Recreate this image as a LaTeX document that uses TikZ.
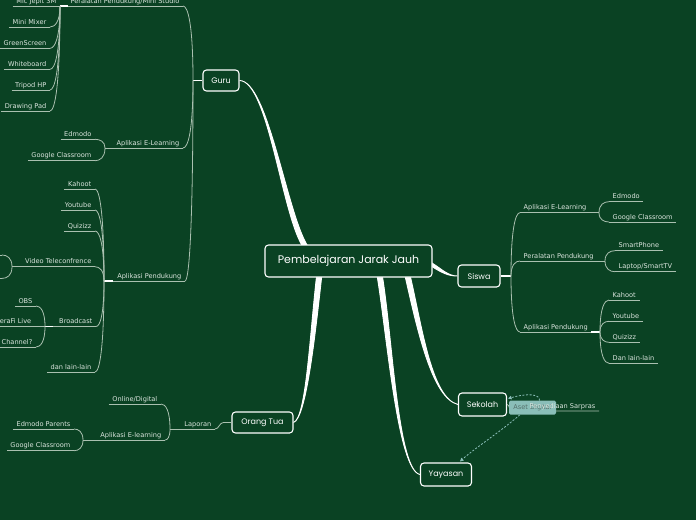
\documentclass[tikz,border=0pt]{standalone}
\usepackage{fontspec}
\setmainfont{DejaVu Sans}
\newfontfamily\hand{Poppins}
\usetikzlibrary{calc,arrows.meta}
\definecolor{bgc}{RGB}{10,66,35}
\definecolor{linec}{RGB}{170,192,176}
\definecolor{txtc}{RGB}{220,230,223}
\definecolor{asetc}{RGB}{138,190,184}
\definecolor{asettxt}{RGB}{84,112,106}
\pgfdeclarelayer{bglayer}
\pgfdeclarelayer{connlayer}
\pgfsetlayers{bglayer,connlayer,main}
\tikzset{
  uline/.style={draw=linec, line width=0.8pt},
  lblnl/.style={font=\fontsize{6.6}{7.5}\selectfont, text=txtc, inner xsep=3.5pt, inner ysep=1.5pt, text height=4.9pt, text depth=1.3pt},
  lbl/.style={lblnl, append after command={(\tikzlastnode.south west) edge[uline] (\tikzlastnode.south east)}},
  ll/.style={lbl, anchor=south east},
  lr/.style={lbl, anchor=south west},
  br/.style={draw=linec, line width=0.8pt},
  hl/.style={draw=white, line width=1.4pt},
  topic/.style={draw=white, line width=1.1pt, rounded corners=3.5pt, fill=bgc, text=white, font=\hand\fontsize{8}{9}\selectfont, inner sep=0pt},
  maintopic/.style={topic, font=\hand\fontsize{11}{12}\selectfont},
  asetbox/.style={fill=asetc, rounded corners=1.5pt, text=asettxt, font=\fontsize{6.6}{7.5}\selectfont, inner sep=0pt, minimum width=47pt, minimum height=14pt},
  dashc/.style={draw=asetc, line width=0.8pt, dash pattern=on 2pt off 1.6pt, -{Triangle[length=3.5pt,width=3.5pt]}},
}
\newcommand\brk[2]{\draw[br] (#1) .. controls ($(#1)!0.75!(#1|-#2)$) and ($(#2)!0.5!(#1|-#2)$) .. (#2);}
\newcommand\taper[5]{\filldraw[white,line width=0.9pt,line join=round] (#1) .. controls (#2) and ($(#3)+(#5)$) .. ($(#4)+(#5)$) -- ($(#4)-(#5)$) .. controls ($(#3)-(#5)$) and (#2) .. (#1);}
\begin{document}
\begin{tikzpicture}[x=1pt,y=-1pt]
\begin{pgfonlayer}{bglayer}
\fill[bgc] (0,0) rectangle (696,520);
\end{pgfonlayer}
\useasboundingbox (0,0) rectangle (696,520);

% main topics
\node[maintopic, minimum width=167pt, minimum height=32pt] (c) at (348.5,261) {Pembelajaran Jarak Jauh};
\node[topic, minimum width=36pt, minimum height=21pt] (g) at (221,80.5) {Guru};
\node[topic, minimum width=42pt, minimum height=22pt] (s) at (479,276) {Siswa};
\node[topic, minimum width=48pt, minimum height=23pt] (k) at (482.5,404.5) {Sekolah};
\node[topic, minimum width=51pt, minimum height=23pt] (y) at (446,474.5) {Yayasan};
\node[topic, minimum width=61pt, minimum height=21pt] (o) at (262.5,422.5) {Orang Tua};

% tapered main connectors
\coordinate (cg) at (305,246);
\coordinate (cs) at (431.5,264.5);
\coordinate (ck) at (408,277.5);
\coordinate (cy) at (380,277.5);
\coordinate (co) at (319,277.5);
\begin{pgfonlayer}{connlayer}
\taper{g.east}{268,81}{284,212}{cg}{2.6,0}
\taper{s.west}{448,276}{442,271}{cs}{0,1.8}
\taper{k.west}{432,398}{420,330}{ck}{2.6,0}
\taper{y.west}{398,470}{390,340}{cy}{2.6,0}
\taper{o.east}{306,418}{312,340}{co}{2.6,0}
\end{pgfonlayer}

% ---------- Guru ----------
\coordinate (gj) at (193,80.5);
\draw[hl] (g.west) -- (gj);
\node[ll] (gpm) at (183,6) {Peralatan Pendukung/Mini Studio};
\node[ll] (ga) at (183,148) {Aplikasi E-Learning};
\node[ll] (gap) at (185,281) {Aplikasi Pendukung};
\brk{gj}{gpm.south east}
\brk{gj}{ga.south east}
\brk{gj}{gap.south east}

\coordinate (gpmj) at (60,6);
\draw[uline] (gpmj) -- (gpm.south west);
\draw[hl] (gpmj) -- ++(8,0);
\node[ll] (mic) at (60,6) {Mic Jepit 3M};
\node[ll] (mmx) at (50,27) {Mini Mixer};
\node[ll] (gsc) at (50,48.3) {GreenScreen};
\node[ll] (wbd) at (50,69.3) {Whiteboard};
\node[ll] (tpd) at (50,90) {Tripod HP};
\node[ll] (dpd) at (50,111) {Drawing Pad};
\brk{gpmj}{mmx.south east}
\brk{gpmj}{gsc.south east}
\brk{gpmj}{wbd.south east}
\brk{gpmj}{tpd.south east}
\brk{gpmj}{dpd.south east}

\coordinate (gaj) at (105,148);
\draw[uline] (gaj) -- (ga.south west);
\node[ll] (ged) at (95,139.3) {Edmodo};
\node[ll] (ggc) at (95,160.7) {Google Classroom};
\brk{gaj}{ged.south east}
\brk{gaj}{ggc.south east}

\coordinate (gapj) at (104,281);
\draw[uline] (gapj) -- (gap.south west);
\draw[hl] (gapj) -- ++(9,0);
\node[ll] (gkh) at (95,189) {Kahoot};
\node[ll] (gyt) at (95,210) {Youtube};
\node[ll] (gqz) at (95,231) {Quizizz};
\node[ll] (gvt) at (95,266.7) {Video Teleconfrence};
\node[ll] (gbc) at (96,326.5) {Broadcast};
\node[ll] (gdl) at (95,372) {dan lain-lain};
\brk{gapj}{gkh.south east}
\brk{gapj}{gyt.south east}
\brk{gapj}{gqz.south east}
\brk{gapj}{gvt.south east}
\brk{gapj}{gbc.south east}
\brk{gapj}{gdl.south east}

\coordinate (gvtj) at (12,266.7);
\draw[uline] (gvtj) -- (gvt.south west);
\coordinate (vt1) at (2,255);
\coordinate (vt2) at (2,278.4);
\brk{gvtj}{vt1}
\brk{gvtj}{vt2}
\draw[uline] (vt1) -- ++(-20,0);
\draw[uline] (vt2) -- ++(-20,0);

\coordinate (gbcj) at (45,326.5);
\draw[uline] (gbcj) -- (gbc.south west);
\draw[hl] (gbcj) -- ++(8,0);
\node[ll] (obs) at (36,306) {OBS};
\node[ll] (cfl) at (35,326.5) {CameraFi Live};
\node[ll] (ytc) at (36,347) {Youtube Channel?};
\draw[uline] (cfl.south east) -- (gbcj);
\brk{gbcj}{obs.south east}
\brk{gbcj}{ytc.south east}

% ---------- Orang Tua ----------
\node[ll] (lap) at (215,429) {Laporan};
\draw[br] (o.west) -- ++(-8,0) .. controls ++(-4,0) and ($(lap.south east)+(4,0)$) .. (lap.south east);
\coordinate (lapj) at (170,429);
\draw[uline] (lapj) -- (lap.south west);
\node[ll] (od) at (161,404) {Online/Digital};
\node[ll] (ael) at (165,440) {Aplikasi E-learning};
\brk{lapj}{od.south east}
\brk{lapj}{ael.south east}
\coordinate (aelj) at (83,440);
\draw[uline] (aelj) -- (ael.south west);
\node[ll] (edp) at (74,429) {Edmodo Parents};
\node[ll] (ogc) at (74,450.7) {Google Classroom};
\brk{aelj}{edp.south east}
\brk{aelj}{ogc.south east}

% ---------- Siswa ----------
\coordinate (sj) at (511,276);
\draw[hl] (s.east) -- (sj);
\node[lr] (sae) at (520,212.7) {Aplikasi E-Learning};
\node[lr] (spp) at (520,261) {Peralatan Pendukung};
\node[lr] (sap) at (520,332) {Aplikasi Pendukung};
\brk{sj}{sae.south west}
\brk{sj}{spp.south west}
\brk{sj}{sap.south west}

\coordinate (saej) at (599,212.7);
\draw[uline] (sae.south east) -- (saej);
\node[lr] (sed) at (609,201.7) {Edmodo};
\node[lr] (sgc) at (609,222) {Google Classroom};
\brk{saej}{sed.south west}
\brk{saej}{sgc.south west}

\coordinate (sppj) at (605,261);
\draw[uline] (spp.south east) -- (sppj);
\node[lr] (ssp) at (615,250.7) {SmartPhone};
\node[lr] (slt) at (615,271.7) {Laptop/SmartTV};
\brk{sppj}{ssp.south west}
\brk{sppj}{slt.south west}

\coordinate (sapj) at (600,332);
\draw[uline] (sap.south east) -- (sapj);
\draw[hl] (sapj) -- ++(-9,0);
\node[lr] (skh) at (609,300) {Kahoot};
\node[lr] (syt) at (609,321.3) {Youtube};
\node[lr] (sqz) at (609,342.3) {Quizizz};
\node[lr] (sdl) at (609,363.3) {Dan lain-lain};
\brk{sapj}{skh.south west}
\brk{sapj}{syt.south west}
\brk{sapj}{sqz.south west}
\brk{sapj}{sdl.south west}

% ---------- Sekolah ----------
\coordinate (psr) at (599,411);
\draw[uline] (k.east) .. controls (510,404.5) and (508,411) .. (514,411) -- (psr);
\node[asetbox] (aset) at (532.5,407.7) {Aset Digital};
\node[lblnl, anchor=south east] (ps) at (psr) {Penyediaan Sarpras};
\draw[dashc] ($(aset.north)+(7,0)$) .. controls (540,394) and (528,393) .. ($(k.east)+(1,-6)$);
\draw[dashc] ($(aset.south west)+(11,0)$) .. controls (500,432) and (475,448) .. ($(y.north)+(14,-1)$);
\end{tikzpicture}
\end{document}
